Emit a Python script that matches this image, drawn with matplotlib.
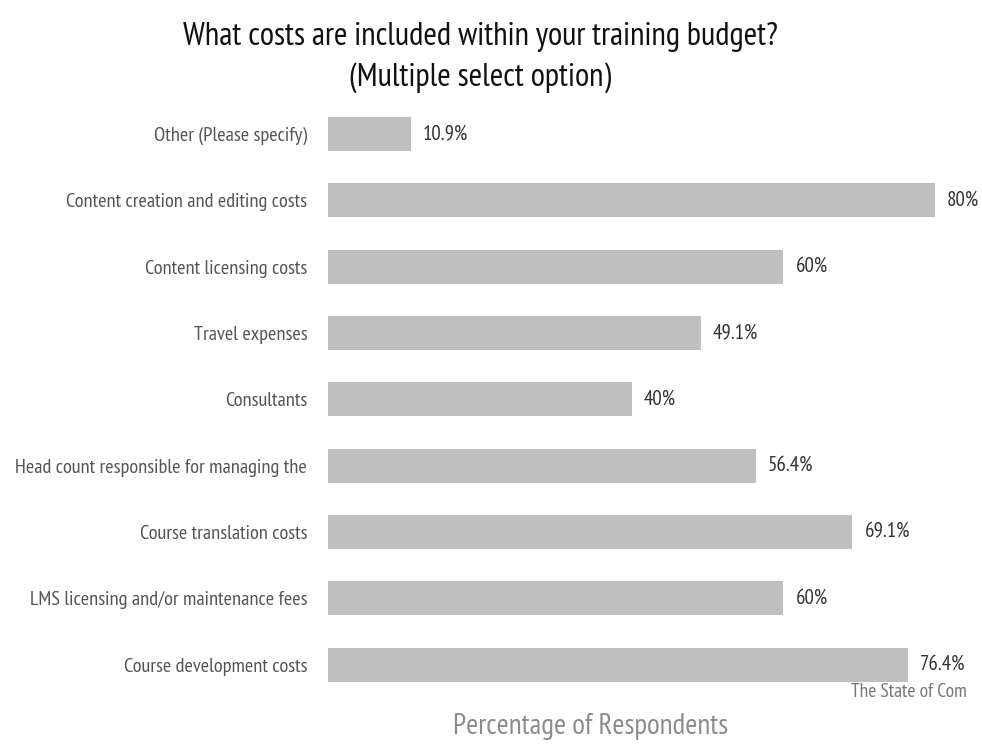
import matplotlib
matplotlib.use("Agg")
import matplotlib.pyplot as plt

plt.rcParams["font.family"] = ["PT Sans Narrow", "Roboto Condensed", "DejaVu Sans"]

categories = [
    "Other (Please specify)",
    "Content creation and editing costs",
    "Content licensing costs",
    "Travel expenses",
    "Consultants",
    "Head count responsible for managing the",
    "Course translation costs",
    "LMS licensing and/or maintenance fees",
    "Course development costs",
]
values = [10.9, 80, 60, 49.1, 40, 56.4, 69.1, 60, 76.4]
value_labels = ["10.9%", "80%", "60%", "49.1%", "40%", "56.4%", "69.1%", "60%", "76.4%"]

fig = plt.figure(figsize=(9.82, 7.44), dpi=100)
ax = fig.add_axes([0.334, 0.062, 0.636, 0.8025])

ypos = list(range(len(categories)))[::-1]
ax.barh(ypos, values, height=0.51, color="#bfbfbf")
ax.set_xlim(0, 82.3)
ax.set_ylim(-0.5, len(categories) - 0.5)

for y, v, lab in zip(ypos, values, value_labels):
    ax.text(v + 1.6, y, lab, va="center", ha="left", fontsize=15, color="#333333")

ax.set_yticks(ypos)
ax.set_yticklabels(categories, fontsize=14.7, color="#555555")
ax.tick_params(axis="y", length=0, pad=15)
ax.set_xticks([])
for s in ax.spines.values():
    s.set_visible(False)

# two-line title, same as the reference
fig.text(0.489, 0.9395, "What costs are included within your training budget?",
         ha="center", va="baseline", fontsize=23.5, color="#111111")
fig.text(0.489, 0.8844, "(Multiple select option)",
         ha="center", va="baseline", fontsize=23.5, color="#111111")
fig.text(0.601, 0.023, "Percentage of Respondents", ha="center", va="center",
         fontsize=21, color="#8c8c8c")
fig.text(0.867, 0.070, "The State of Com", ha="left", va="center",
         fontsize=14, color="#777777")

fig.savefig("out.png", dpi=100)
